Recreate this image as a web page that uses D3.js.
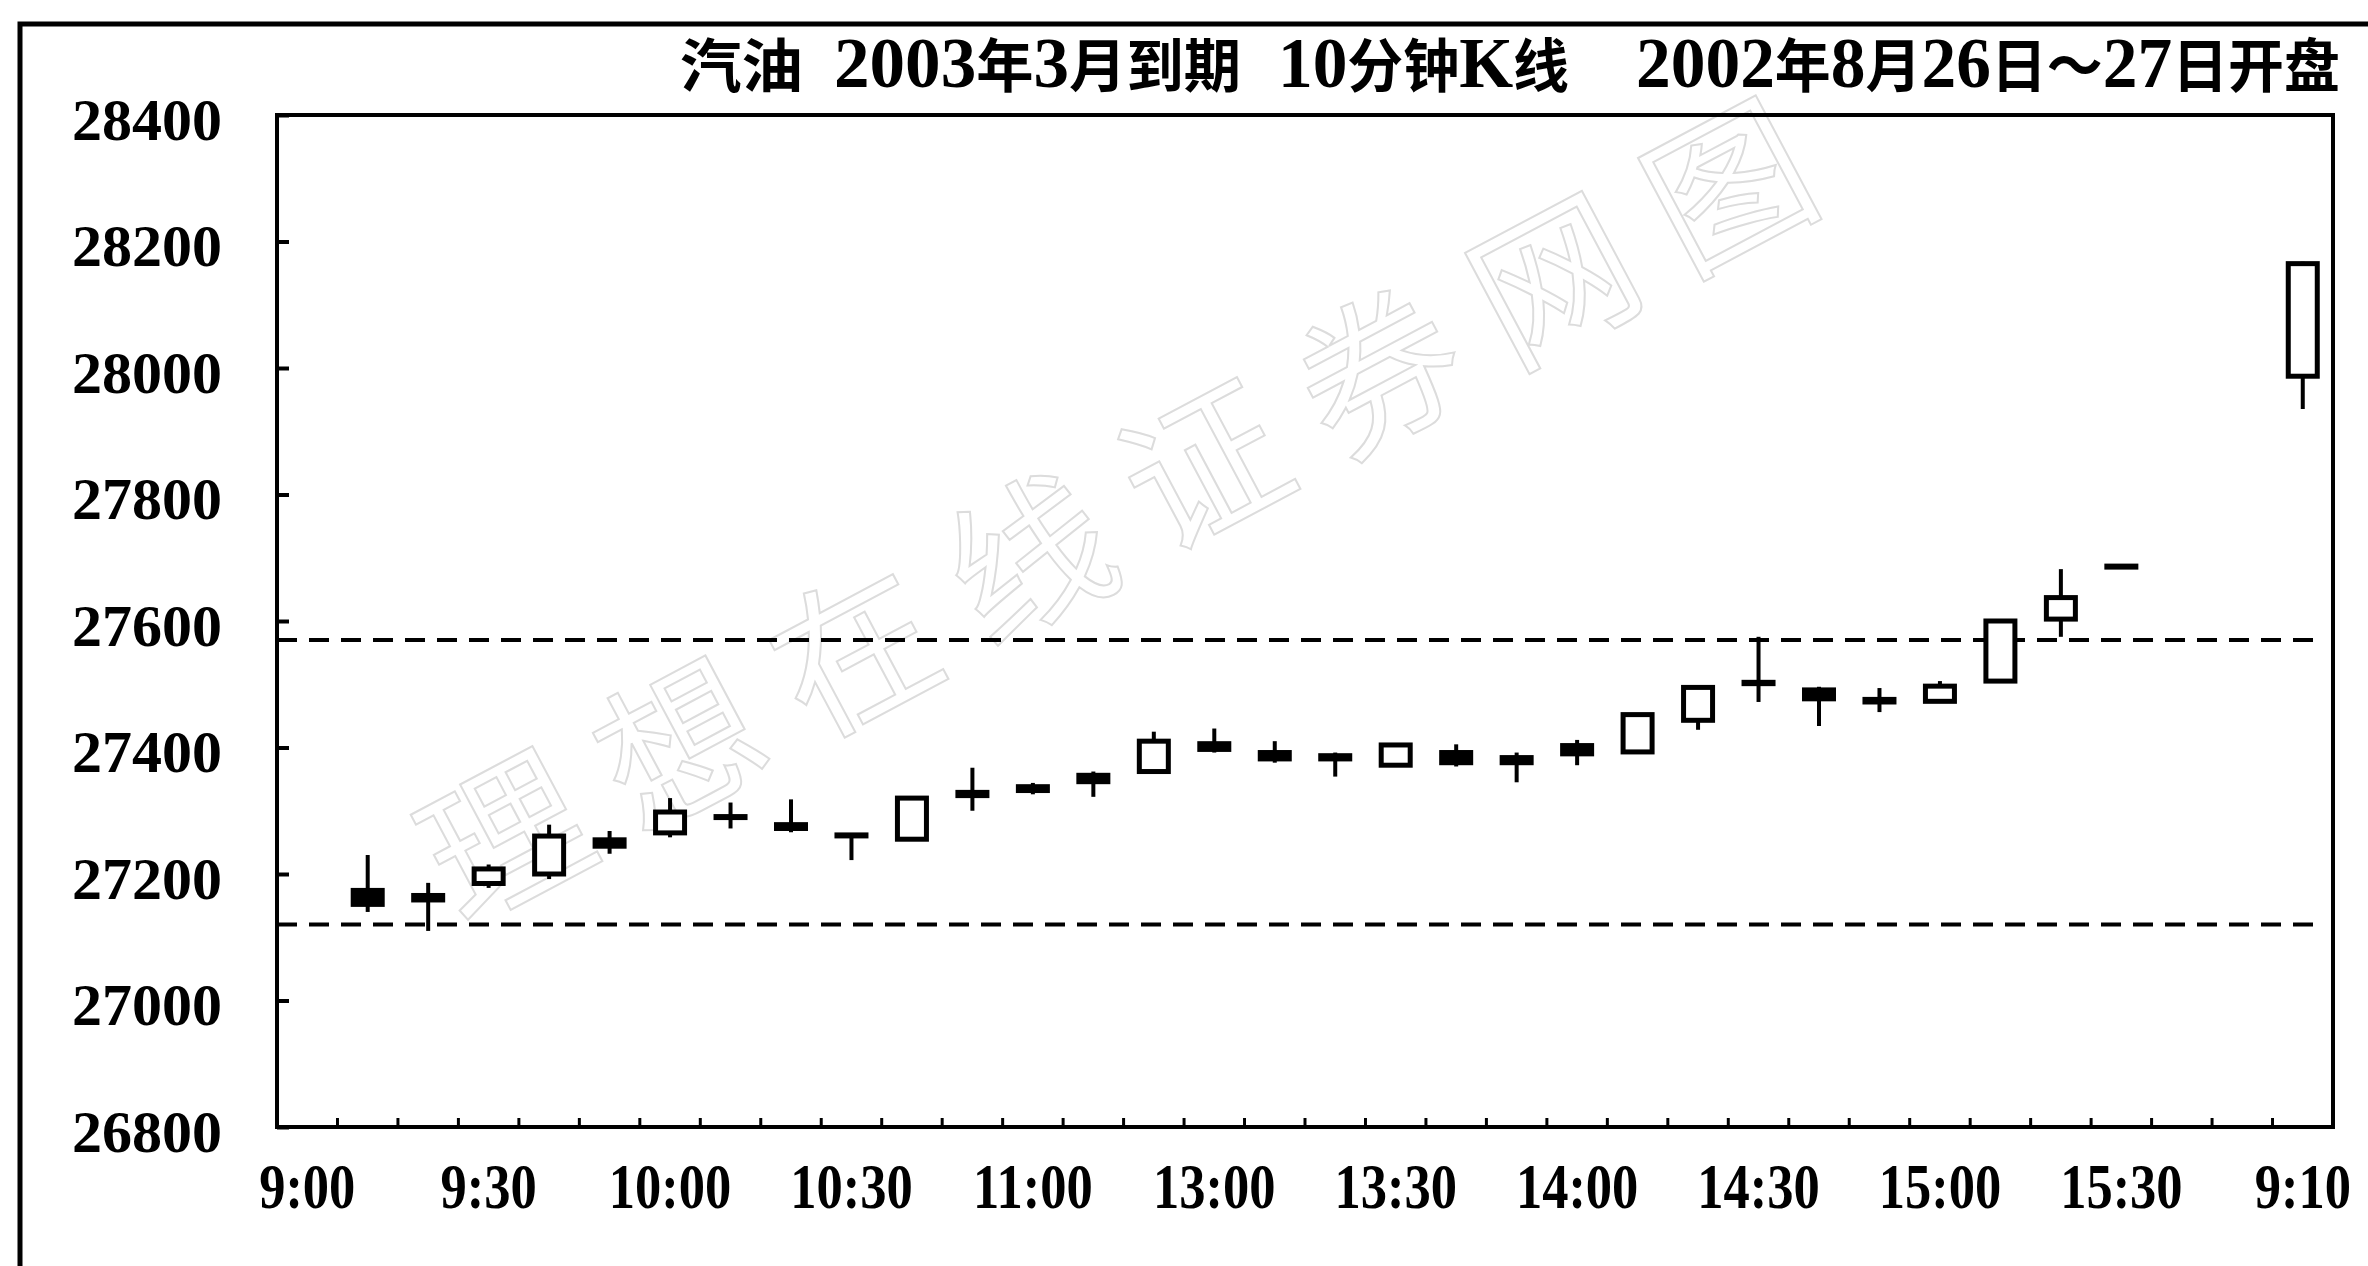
<!DOCTYPE html>
<html><head><meta charset="utf-8">
<script src="https://cdn.jsdelivr.net/npm/d3@7"></script>
<style>
html,body{margin:0;padding:0;background:#fff;}
svg{display:block;}
</style></head>
<body>
<svg id="chart" width="2368" height="1266"></svg>
<script>
// ---------- data ----------
const titleParts = ["汽油", "2003年3月到期", "10分钟K线", "2002年8月26日～27日开盘"];
const yTicks = [26800, 27000, 27200, 27400, 27600, 27800, 28000, 28200, 28400];
const tickLabels = ["9:00","9:30","10:00","10:30","11:00","13:00","13:30","14:00","14:30","15:00","15:30","9:10"];
const tickSlots  = [0, 3, 6, 9, 12, 15, 18, 21, 24, 27, 30, 33];
const slotCount = 34;
const candleSlot = [1,2,3,4,5,6,7,8,9,10,11,12,13,14,15,16,17,18,19,20,21,22,23,24,25,26,27,28,29,30,33];
const openP  = [27178,27170,27185,27200,27258,27265,27292,27282,27262,27255,27333,27342,27360,27362,27410,27396,27391,27372,27396,27388,27407,27393,27443,27507,27495,27480,27473,27505,27603,27687,27987];
const highP  = [27230,27186,27215,27278,27268,27320,27313,27318,27263,27322,27368,27344,27362,27425,27430,27410,27392,27405,27405,27392,27412,27453,27496,27575,27496,27494,27505,27602,27682,27688,28168];
const lowP   = [27140,27110,27178,27192,27232,27258,27272,27266,27222,27253,27300,27326,27322,27360,27392,27376,27354,27371,27370,27345,27372,27392,27428,27472,27434,27456,27472,27503,27575,27684,27935];
const closeP = [27148,27155,27208,27260,27240,27298,27288,27268,27260,27320,27320,27328,27342,27410,27393,27378,27378,27404,27372,27372,27386,27452,27495,27497,27473,27468,27497,27600,27637,27685,28165];
const refLines = [27570, 27120];
const watermark = "理想在线证券网图";

// ---------- layout ----------
const svg = d3.select("#chart");
const plot = {left: 277, right: 2333, top: 115, bottom: 1127};
const numFont = "'Liberation Serif','Times New Roman',serif";
const cjkFont = "'Noto Sans CJK SC','Liberation Serif',serif";

const x = d3.scaleBand().domain(d3.range(slotCount)).range([plot.left, plot.right]).padding(0);
const y = d3.scaleLinear().domain([26800, 28400]).range([plot.bottom, plot.top]);
const cx = s => x(s) + x.bandwidth() / 2;

// outer frame
svg.append("rect").attr("x", 20).attr("y", 24).attr("width", 2420).attr("height", 1320)
  .attr("fill", "none").attr("stroke", "#000").attr("stroke-width", 5);

// watermark
const wm = svg.append("g").attr("transform", "translate(500,828) rotate(-28)");
wm.selectAll("text").data(watermark.split("")).join("text")
  .attr("x", (d, i) => i * 198).attr("y", 0)
  .attr("text-anchor", "middle").attr("dominant-baseline", "central")
  .attr("font-family", cjkFont).attr("font-size", 160)
  .attr("fill", "none").attr("stroke", "#dcdcdc").attr("stroke-width", 2)
  .text(d => d);

// title
const tPos = [[680, 123], [834, 407], [1278, 291], [1636, 704]];
titleParts.forEach((p, i) => {
  const t = svg.append("text").attr("x", tPos[i][0]).attr("y", 87)
    .attr("font-weight", "bold").attr("fill", "#000");
  const runs = p.match(/[\x00-\x7F]+|[^\x00-\x7F]+/g);
  runs.forEach(r => {
    const ascii = /^[\x00-\x7F]+$/.test(r);
    t.append("tspan").text(r)
      .attr("font-family", ascii ? numFont : cjkFont)
      .attr("font-size", ascii ? 72 : 58);
  });
  t.attr("textLength", tPos[i][1]).attr("lengthAdjust", "spacingAndGlyphs");
});

// reference dashed lines
svg.append("g").selectAll("line").data(refLines).join("line")
  .attr("x1", plot.left).attr("x2", plot.right - 20)
  .attr("y1", d => y(d)).attr("y2", d => y(d))
  .attr("stroke", "#000").attr("stroke-width", 4).attr("stroke-dasharray", "20,12");

// y axis
const yAxis = svg.append("g").attr("transform", `translate(${plot.left},0)`)
  .call(d3.axisLeft(y).tickValues(yTicks).tickSize(-12).tickPadding(55).tickFormat(d3.format("d")));
yAxis.select(".domain").remove();
yAxis.selectAll("line").attr("stroke", "#000").attr("stroke-width", 4);
yAxis.selectAll("text").attr("font-family", numFont).attr("font-weight", "bold")
  .attr("font-size", 60).attr("fill", "#000").attr("dy", "0.4em");

// x axis labels
const xAxis = svg.append("g").attr("transform", `translate(0,${plot.bottom})`)
  .call(d3.axisBottom(x).tickValues(tickSlots).tickSize(0).tickPadding(36)
    .tickFormat((d) => tickLabels[tickSlots.indexOf(d)]));
xAxis.select(".domain").remove();
xAxis.selectAll("text").attr("font-family", numFont).attr("font-weight", "bold")
  .attr("font-size", 64).attr("fill", "#000")
  .each(function () {
    const w = this.getComputedTextLength();
    d3.select(this).attr("textLength", w * 0.82).attr("lengthAdjust", "spacingAndGlyphs");
  });

// x boundary ticks (inward)
svg.append("g").selectAll("line").data(d3.range(1, slotCount)).join("line")
  .attr("x1", d => x(d)).attr("x2", d => x(d))
  .attr("y1", plot.bottom).attr("y2", plot.bottom - 9)
  .attr("stroke", "#000").attr("stroke-width", 3);

// plot frame
svg.append("rect").attr("x", plot.left).attr("y", plot.top)
  .attr("width", plot.right - plot.left).attr("height", plot.bottom - plot.top)
  .attr("fill", "none").attr("stroke", "#000").attr("stroke-width", 4);

// candles
const candles = candleSlot.map((s, i) => ({s, o: openP[i], h: highP[i], l: lowP[i], c: closeP[i]}));
const g = svg.append("g");
const cg = g.selectAll("g").data(candles).join("g");
cg.append("line")
  .attr("x1", d => cx(d.s)).attr("x2", d => cx(d.s))
  .attr("y1", d => y(d.h)).attr("y2", d => y(d.l))
  .attr("stroke", "#000").attr("stroke-width", 4);
cg.each(function (d) {
  const sel = d3.select(this);
  const top = y(Math.max(d.o, d.c)), bot = y(Math.min(d.o, d.c));
  if (d.c > d.o) {
    sel.append("rect").attr("x", cx(d.s) - 14.5).attr("width", 29)
      .attr("y", top).attr("height", Math.max(bot - top, 4))
      .attr("fill", "#fff").attr("stroke", "#000").attr("stroke-width", 5);
  } else {
    const hgt = Math.max(bot - top, 6);
    const mid = (top + bot) / 2;
    sel.append("rect").attr("x", cx(d.s) - 17).attr("width", 34)
      .attr("y", mid - hgt / 2).attr("height", hgt).attr("fill", "#000");
  }
});
</script>
</body></html>
